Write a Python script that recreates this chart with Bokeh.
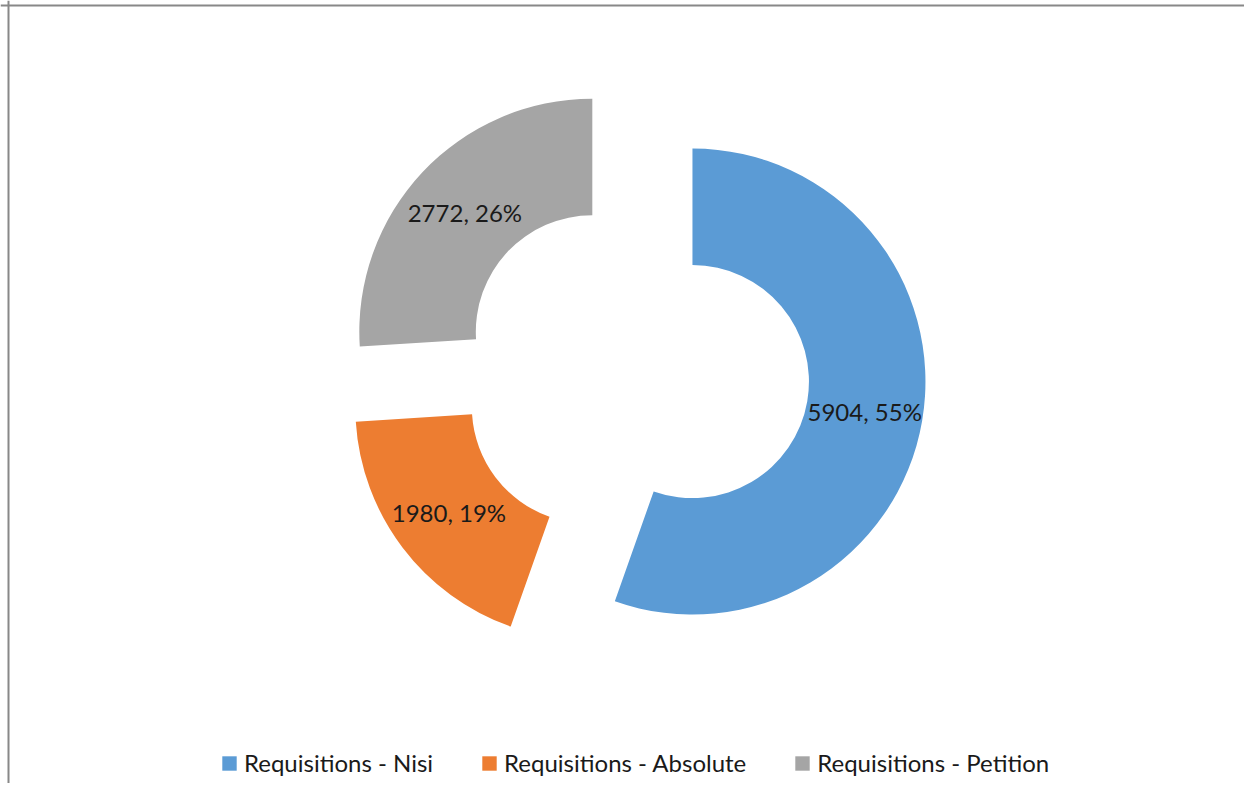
import math
from bokeh.plotting import figure
from bokeh.models import Range1d, ColumnDataSource, Span
from bokeh.core.properties import value
from bokeh.embed import file_html
from bokeh.resources import INLINE

# ---- data ----
categories = ["Requisitions - Nisi", "Requisitions - Absolute", "Requisitions - Petition"]
values = [5904, 1980, 2772]
colors = ["#5B9BD5", "#ED7D31", "#A5A5A5"]

# ---- layout ----
REF_H = 799
W, H = 1244, 783
FONT = "Lato"

p = figure(width=W, height=H,
           x_range=Range1d(0, W), y_range=Range1d(REF_H - H, REF_H),
           output_backend="svg", toolbar_location=None, min_border=0)
p.axis.visible = False
p.grid.visible = False
p.outline_line_color = None
p.background_fill_color = "white"
p.border_fill_color = "white"

# doughnut geometry (pixel-like data units)
cx, cy = 634.4, REF_H - 371.2
r_out, r_in = 233.0, 116.5
explode = 58.4

total = float(sum(values))
xs, ys, starts, ends, lx, ly, texts = [], [], [], [], [], [], []
cum = 0.0
for v in values:
    frac = v / total
    th0 = cum * 2 * math.pi
    th1 = (cum + frac) * 2 * math.pi
    mid = (th0 + th1) / 2
    ox = cx + explode * math.sin(mid)
    oy = cy + explode * math.cos(mid)
    xs.append(ox)
    ys.append(oy)
    starts.append(math.pi / 2 - th1)
    ends.append(math.pi / 2 - th0)
    rm = (r_out + r_in) / 2
    lx.append(ox + rm * math.sin(mid))
    ly.append(oy + rm * math.cos(mid))
    texts.append(f"{v}, {round(frac * 100)}%")
    cum += frac

src = ColumnDataSource(dict(x=xs, y=ys, start=starts, end=ends, color=colors,
                            label=categories, lx=lx, ly=ly, text=texts))

p.annular_wedge(x="x", y="y", inner_radius=r_in, outer_radius=r_out,
                start_angle="start", end_angle="end", direction="anticlock",
                fill_color="color", line_color=None, source=src,
                legend_field="label")

p.text(x="lx", y="ly", text="text", source=src, text_align="center",
       text_baseline="middle", text_font=value(FONT), text_font_size="24px",
       text_color="#1a1a1a")

# chart-area border (top and left edges visible in the reference)
p.add_layout(Span(location=8, dimension="height", line_color="#888888", line_width=2))
p.add_layout(Span(location=REF_H - 5, dimension="width", line_color="#888888", line_width=2))

leg = p.legend[0]
leg.orientation = "horizontal"
leg.location = (220, 6)
leg.border_line_color = None
leg.background_fill_alpha = 0
leg.padding = 0
leg.margin = 0
leg.spacing = 47
leg.glyph_width = 18
leg.glyph_height = 18
leg.label_standoff = 6
leg.label_text_font = FONT
leg.label_text_font_size = "24px"
leg.label_text_color = "#1a1a1a"

open("out.html", "w").write(file_html(p, INLINE))
